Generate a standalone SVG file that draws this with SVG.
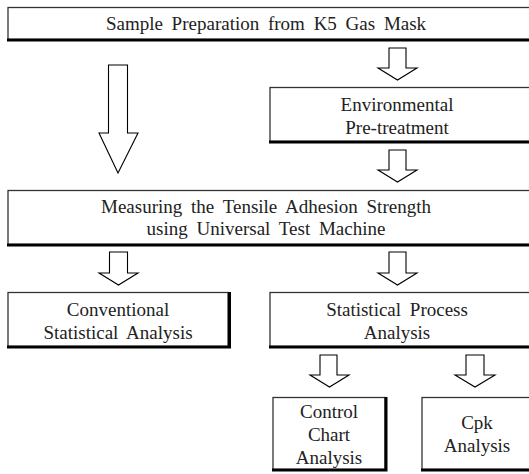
<svg xmlns="http://www.w3.org/2000/svg" width="529" height="474" viewBox="0 0 529 474">
<style>
.box{fill:#fff;stroke:#333;stroke-width:1.3}
.sh{stroke:#000;stroke-width:3;fill:none}
.arr{fill:#fff;stroke:#000;stroke-width:1.1;stroke-linejoin:miter}
text{font-family:"Liberation Serif","DejaVu Serif",serif;font-size:19px;fill:#222;text-anchor:middle;word-spacing:4px}
</style>
<rect width="529" height="474" fill="#fff"/>
<g id="connectors">
<path class="arr" d="M108.5,65 H127.5 V133 H138 L118,173 L99,133 H108.5 Z"/>
<path class="arr" d="M389,48 H406 V68 H417 L397.5,80 L378,68 H389 Z"/>
<path class="arr" d="M389,150 H406 V170 H417 L397.5,182 L378,170 H389 Z"/>
<path class="arr" d="M109.5,252 H127.5 V273 H138 L118.5,285 L99,273 H109.5 Z"/>
<path class="arr" d="M389,252 H406 V273 H417 L397.5,285 L378,273 H389 Z"/>
<path class="arr" d="M320,355 H337 V375 H349 L329.5,387 L310,375 H320 Z"/>
<path class="arr" d="M466,355 H484 V375 H495 L475,387 L455,375 H466 Z"/>
</g>
<g id="sample">
<rect class="box" x="8" y="7.5" width="530" height="32"/>
<line class="sh" x1="7" y1="40" x2="538" y2="40"/>
<text x="266" y="30">Sample Preparation from K5 Gas Mask</text>
</g>
<g id="environmental">
<rect class="box" x="270" y="87.5" width="268" height="54"/>
<line class="sh" x1="269" y1="142" x2="538" y2="142"/>
<text x="397" y="111">Environmental</text>
<text x="397" y="134">Pre-treatment</text>
</g>
<g id="measuring">
<rect class="box" x="8" y="190.5" width="530" height="54"/>
<line class="sh" x1="7" y1="245" x2="538" y2="245"/>
<text x="266" y="213">Measuring the Tensile Adhesion Strength</text>
<text x="266" y="235">using Universal Test Machine</text>
</g>
<g id="conventional">
<rect class="box" x="8" y="292.5" width="220" height="54"/>
<path class="sh" d="M7,347 H229.5 V292"/>
<text x="118" y="316">Conventional</text>
<text x="118" y="339">Statistical Analysis</text>
</g>
<g id="statistical-process">
<rect class="box" x="270" y="292.5" width="268" height="54"/>
<line class="sh" x1="269" y1="347" x2="538" y2="347"/>
<text x="397" y="316">Statistical Process</text>
<text x="397" y="339">Analysis</text>
</g>
<g id="control-chart">
<rect class="box" x="273" y="397.5" width="112" height="72"/>
<path class="sh" d="M272,470 H386 V397"/>
<text x="329" y="418">Control</text>
<text x="329" y="441">Chart</text>
<text x="329" y="464">Analysis</text>
</g>
<g id="cpk">
<rect class="box" x="422" y="397.5" width="116" height="72"/>
<line class="sh" x1="421" y1="470" x2="538" y2="470"/>
<text x="477" y="429">Cpk</text>
<text x="477" y="452">Analysis</text>
</g>
</svg>
